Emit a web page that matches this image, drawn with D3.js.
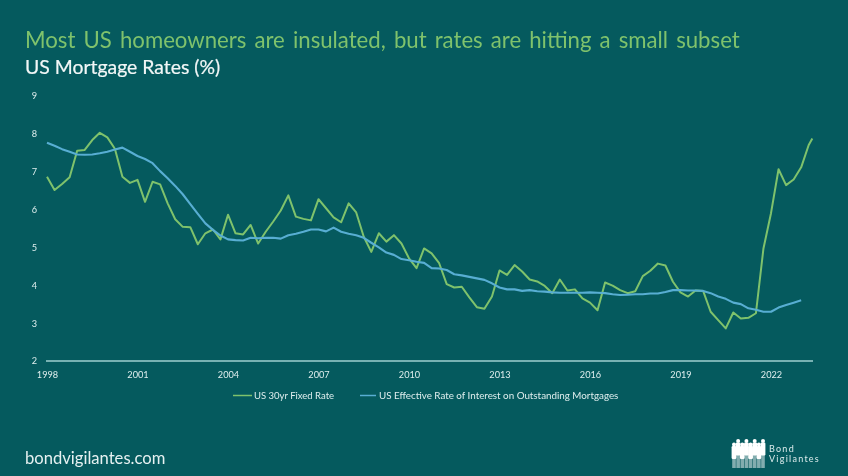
<!DOCTYPE html>
<html><head><meta charset="utf-8">
<script src="https://cdn.jsdelivr.net/npm/d3@7"></script>
<style>html,body{margin:0;padding:0;background:#055a5e;overflow:hidden}svg{display:block;filter:blur(0.35px)}text{font-family:Lato,"Open Sans",sans-serif}</style>
</head><body><svg id="c" width="848" height="476"></svg>
<script>
const titleText="Most US homeowners are insulated, but rates are hitting a small subset";
const subtitleText="US Mortgage Rates (%)";
const footerText="bondvigilantes.com";
const logoWords=["Bond","Vigilantes"];
const seriesNames=["US 30yr Fixed Rate","US Effective Rate of Interest on Outstanding Mortgages"];
const yTicks=[2,3,4,5,6,7,8,9];
const xTicks=[1998,2001,2004,2007,2010,2013,2016,2019,2022];
const fixedRate=[6.86,6.51,6.67,6.85,7.55,7.57,7.83,8.02,7.9,7.6,6.86,6.7,6.78,6.2,6.73,6.66,6.16,5.74,5.54,5.53,5.08,5.37,5.47,5.21,5.86,5.37,5.34,5.59,5.1,5.41,5.68,5.97,6.37,5.81,5.75,5.71,6.27,6.03,5.79,5.66,6.16,5.92,5.28,4.88,5.37,5.15,5.32,5.1,4.71,4.45,4.97,4.84,4.58,4.03,3.94,3.96,3.68,3.42,3.38,3.7,4.39,4.27,4.53,4.36,4.15,4.1,3.98,3.79,4.15,3.86,3.89,3.65,3.54,3.34,4.07,3.99,3.87,3.79,3.84,4.24,4.38,4.57,4.52,4.09,3.81,3.7,3.86,3.85,3.3,3.08,2.86,3.28,3.12,3.14,3.26,4.97,5.9,7.06,6.64,6.79,7.11,7.7,7.87];
const effectiveRate=[7.76,7.68,7.59,7.52,7.45,7.44,7.45,7.48,7.52,7.58,7.63,7.52,7.41,7.33,7.22,7.01,6.82,6.62,6.4,6.14,5.88,5.63,5.46,5.31,5.21,5.19,5.18,5.25,5.24,5.25,5.25,5.23,5.32,5.36,5.41,5.47,5.47,5.42,5.52,5.41,5.36,5.32,5.25,5.12,5,4.86,4.8,4.69,4.66,4.62,4.59,4.45,4.44,4.4,4.29,4.26,4.22,4.18,4.14,4.05,3.94,3.89,3.89,3.85,3.87,3.84,3.83,3.81,3.8,3.8,3.8,3.8,3.81,3.8,3.79,3.76,3.74,3.75,3.76,3.76,3.78,3.78,3.82,3.87,3.87,3.86,3.86,3.85,3.79,3.7,3.64,3.54,3.5,3.39,3.35,3.3,3.3,3.41,3.48,3.54,3.6];
const finalFixedPeriod=2023.37;

const BG="#055a5e",GREEN="#7fc26c",BLUE="#58aed3",TXT="#dfeeee";
const svg=d3.select("#c");
const x=d3.scaleLinear().domain([1998,2022]).range([47,771]);
const y=d3.scaleLinear().domain([2,9]).range([361,95.7]);
const periodOf=i=>1998+i/4;
const fixedPts=fixedRate.map((v,i)=>[i===fixedRate.length-1?finalFixedPeriod:periodOf(i),v]);
const effPts=effectiveRate.map((v,i)=>[periodOf(i),v]);
const line=d3.line().x(d=>x(d[0])).y(d=>y(d[1]));

svg.append("rect").attr("width",848).attr("height",476).attr("fill",BG);
svg.append("text").attr("x",25).attr("y",48).attr("font-size",22.2).attr("fill",GREEN).attr("word-spacing",2.4).text(titleText);
svg.append("text").attr("x",25).attr("y",74).attr("font-size",19.4).attr("fill","#f2f7f7").attr("stroke","#f2f7f7").attr("stroke-width",0.2).text(subtitleText);

const ax=svg.append("g").attr("transform","translate(0,361)").call(d3.axisBottom(x).tickValues(xTicks).tickFormat(d3.format("d")).tickSize(0).tickPadding(10.5));
ax.select(".domain").remove();
ax.selectAll("text").attr("font-size",9.2).attr("fill",TXT).style("font-family",'Lato,sans-serif');
svg.append("line").attr("x1",x(1998)-1).attr("x2",813).attr("y1",361).attr("y2",361).attr("stroke","#9fd0d0").attr("stroke-width",1.3);
const ay=svg.append("g").attr("transform","translate(37,0)").call(d3.axisLeft(y).tickValues(yTicks).tickFormat(d3.format("d")).tickSize(0).tickPadding(0));
ay.select(".domain").remove();
ay.selectAll("text").attr("font-size",9.2).attr("fill",TXT).style("font-family",'Lato,sans-serif');

svg.append("path").attr("d",line(fixedPts)).attr("fill","none").attr("stroke",GREEN).attr("stroke-width",2).attr("stroke-linejoin","round");
svg.append("path").attr("d",line(effPts)).attr("fill","none").attr("stroke",BLUE).attr("stroke-width",2.1).attr("stroke-linejoin","round");

[[233,252,254,GREEN,0],[360,376,379,BLUE,1]].forEach(([a,b,t,c,i])=>{
  svg.append("line").attr("x1",a).attr("x2",b).attr("y1",395.5).attr("y2",395.5).attr("stroke",c).attr("stroke-width",1.5);
  svg.append("text").attr("x",t).attr("y",398.6).attr("font-size",i?9.8:9.5).attr("fill",TXT).text(seriesNames[i]);
});

svg.append("text").attr("x",25).attr("y",464).attr("font-size",16.6).attr("fill","#e6f1f1").text(footerText);

// logo: row of standing figures
const logo=svg.append("g").attr("fill","#ffffff");
const figs=[0,1,2,3,4,5,6,7];
const fx=d3.scaleLinear().domain([0,7]).range([734,763]);
figs.forEach(i=>{
  const tall=i%2===1;
  const top=tall?441:444.5;
  logo.append("circle").attr("cx",fx(i)).attr("cy",top).attr("r",2);
  logo.append("rect").attr("x",fx(i)-2.4).attr("y",top+1.5).attr("width",4.8).attr("height",13).attr("rx",1.2);
  logo.append("rect").attr("x",fx(i)-1.8).attr("y",top+13).attr("width",3.6).attr("height",(tall?14:10.5)).attr("opacity",0.5);
});
logo.selectAll("x").data(logoWords).join("text").attr("x",769).attr("y",(d,i)=>451.5+i*10.8).attr("font-size",9).attr("letter-spacing",1.25).attr("fill","#dcecec").text(d=>d);
</script></body></html>
